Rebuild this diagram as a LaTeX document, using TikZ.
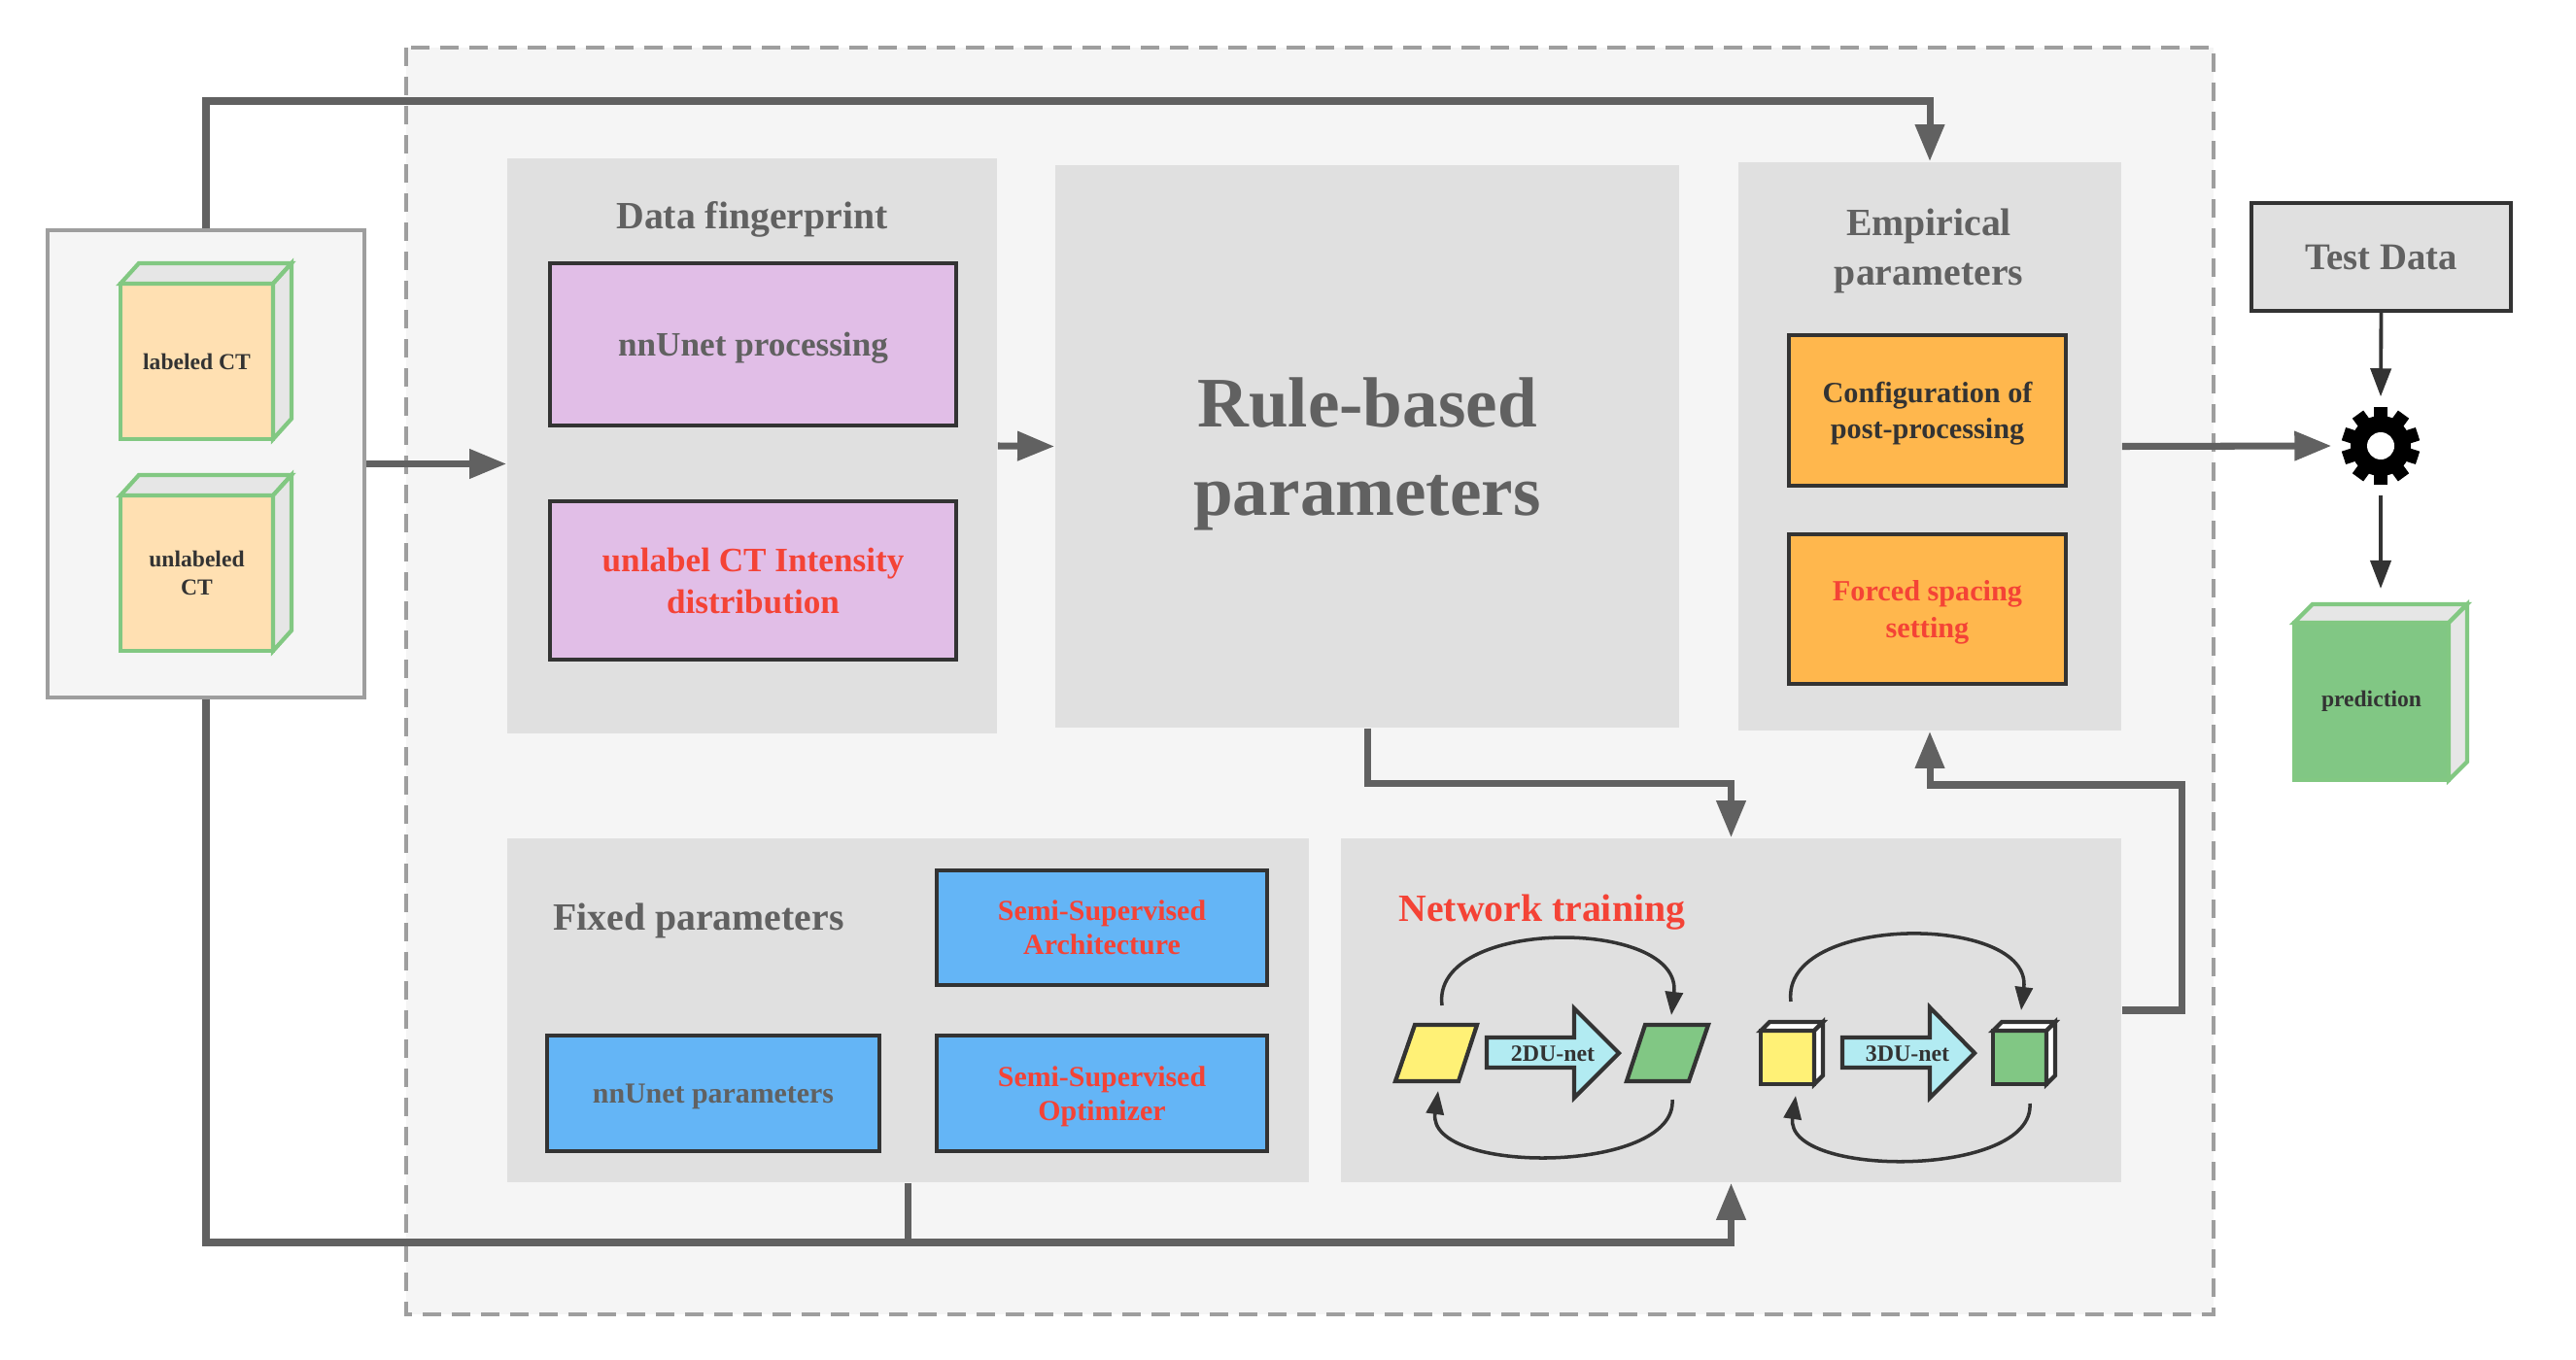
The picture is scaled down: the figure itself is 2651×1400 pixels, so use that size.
\documentclass[tikz,border=0pt]{standalone}
\usepackage{fontspec}
\setmainfont{Liberation Serif}
\usetikzlibrary{arrows.meta}

\definecolor{framebg}{HTML}{F5F5F5}
\definecolor{framedash}{HTML}{9E9E9E}
\definecolor{panelgray}{HTML}{E0E0E0}
\definecolor{flowgray}{HTML}{616161}
\definecolor{txtgray}{HTML}{616161}
\definecolor{txtdark}{HTML}{333333}
\definecolor{txtred}{HTML}{F44336}
\definecolor{lilac}{HTML}{E1BEE7}
\definecolor{amber}{HTML}{FFB74D}
\definecolor{skyblue}{HTML}{64B5F6}
\definecolor{peach}{HTML}{FFE0B2}
\definecolor{cubeedge}{HTML}{82C882}
\definecolor{cubeside}{HTML}{E6E6E6}
\definecolor{leaf}{HTML}{81C784}
\definecolor{lemon}{HTML}{FFF176}
\definecolor{cyanpale}{HTML}{B2EBF2}

\newcommand\setfs[2]{\fontsize{#1}{#2}\selectfont\bfseries}

\tikzset{
  panel/.style={fill=panelgray, inner sep=0pt},
  ttl/.style={font=\setfs{11.3}{14.5}, text=txtgray, align=center, text depth=0pt},
  cell/.style={draw=txtdark, line width=1.2pt, align=center, inner sep=2pt, text depth=0pt},
  cube/.style={fill=peach, draw=cubeedge, line width=1.2pt, outer sep=0pt, align=center, font=\setfs{6.7}{8.2}, text=txtdark},
  cubeface/.style={fill=cubeside, draw=cubeedge, line width=1.2pt},
  shapeline/.style={draw=txtdark, line width=1.2pt},
  flow/.style={draw=flowgray, line width=2pt, -{Triangle[length=0.38cm,width=0.29cm]}},
  flowline/.style={draw=flowgray, line width=2pt},
  thin/.style={draw=txtdark, line width=1.1pt, -{Triangle[length=0.29cm,width=0.21cm]}},
  loop/.style={draw=txtdark, line width=1pt, -{Triangle[length=0.24cm,width=0.18cm]}}
}

\begin{document}
\begin{tikzpicture}[x=0.01cm, y=-0.01cm]
\path[use as bounding box, fill=white] (0,0) rectangle (2651,1400);
\draw[fill=framebg, draw=framedash, line width=0.9pt, dash pattern=on 0.19cm off 0.11cm] (418,49) rectangle (2278,1353); %frame

% inputs
\node[draw=framedash, fill=framebg, line width=1pt, minimum width=3.26cm, minimum height=4.81cm] (inbox) at (212,477.5) {};
\node[cube, minimum width=1.57cm, minimum height=1.60cm] (lct) at (202.5,372) {labeled CT};
\node[cube, minimum width=1.57cm, minimum height=1.60cm] (uct) at (202.5,590) {unlabeled\\CT};
\foreach \c in {lct,uct} {
  \draw[cubeface] (\c.north west) -- ++(19,-21) -- ++(157,0) -- (\c.north east) -- cycle;
  \draw[cubeface] (\c.north east) -- ++(19,-21) -- ++(0,160) -- (\c.south east) -- cycle;
}

% data fingerprint
\node[panel, minimum width=5.04cm, minimum height=5.92cm] (df) at (774,459) {};
\node[ttl] (dftitle) at (774,222) {Data fingerprint};
\node[cell, fill=lilac, minimum width=4.18cm, minimum height=1.67cm, font=\setfs{10}{12.3}, text=txtgray] (dfproc) at (775,354.5) {nnUnet processing};
\node[cell, fill=lilac, minimum width=4.18cm, minimum height=1.63cm, font=\setfs{10}{12.3}, text=txtred] (dfint) at (775,597.5) {unlabel CT Intensity\\distribution};

% rule-based
\node[panel, minimum width=6.42cm, minimum height=5.79cm, font=\setfs{20.8}{26}, text=txtgray, align=center, text depth=0pt] (rule) at (1407,459.5) {Rule-based\\parameters};

% empirical
\node[panel, minimum width=3.94cm, minimum height=5.85cm] (emp) at (1986,459.5) {};
\node[ttl] (emptitle) at (1985,254) {Empirical\\parameters};
\node[cell, fill=amber, minimum width=2.85cm, minimum height=1.55cm, font=\setfs{8.6}{10.6}, text=txtdark] (config) at (1983.5,422.5) {Configuration of\\post-processing};
\node[cell, fill=amber, minimum width=2.85cm, minimum height=1.54cm, font=\setfs{8.6}{10.6}, text=txtred] (forced) at (1983.5,627) {Forced spacing\\setting};

% fixed
\node[panel, minimum width=8.25cm, minimum height=3.54cm] (fixed) at (934.5,1040) {};
\node[ttl, anchor=west] (fixtitle) at (557,944) {Fixed parameters};
\node[cell, fill=skyblue, minimum width=3.40cm, minimum height=1.18cm, font=\setfs{8.5}{10}, text=txtred] (arch) at (1134,955) {Semi-Supervised\\Architecture};
\node[cell, fill=skyblue, minimum width=3.42cm, minimum height=1.19cm, font=\setfs{8.5}{10}, text=txtgray] (nnpar) at (734,1125.5) {nnUnet parameters};
\node[cell, fill=skyblue, minimum width=3.40cm, minimum height=1.19cm, font=\setfs{8.5}{10}, text=txtred] (optim) at (1134,1125.5) {Semi-Supervised\\Optimizer};

% network training
\node[panel, minimum width=8.03cm, minimum height=3.54cm] (nt) at (1781.5,1040) {};
\node[ttl, anchor=west, text=txtred] (nttitle) at (1427,935) {Network training};
\draw[shapeline, fill=lemon] (1436,1113) -- (1456,1055) -- (1520,1055) -- (1501,1113) -- cycle; %2d in
\draw[shapeline, fill=leaf] (1674,1113) -- (1693,1055) -- (1758,1055) -- (1738,1113) -- cycle;  %2d out
\draw[shapeline, fill=cyanpale] (1530,1068) -- (1620,1068) -- (1620,1038) -- (1666,1084) -- (1620,1130) -- (1620,1099) -- (1530,1099) -- cycle;
\node[font=\setfs{6.8}{8}, text=txtdark] (unet2d) at (1598,1085) {2DU-net};
\draw[shapeline, fill=lemon] (1812,1061) rectangle (1867,1116); %3d in
\draw[shapeline, fill=white] (1812,1061) -- ++(9,-9) -- ++(55,0) -- (1867,1061) -- cycle;
\draw[shapeline, fill=white] (1867,1061) -- ++(9,-9) -- ++(0,55) -- (1867,1116) -- cycle;
\draw[shapeline, fill=cyanpale] (1896,1068) -- (1986,1068) -- (1986,1037) -- (2032,1084) -- (1986,1130) -- (1986,1099) -- (1896,1099) -- cycle;
\node[font=\setfs{6.8}{8}, text=txtdark] (unet3d) at (1963,1085) {3DU-net};
\draw[shapeline, fill=leaf] (2051,1061) rectangle (2106,1116); %3d out
\draw[shapeline, fill=white] (2051,1061) -- ++(9,-9) -- ++(55,0) -- (2106,1061) -- cycle;
\draw[shapeline, fill=white] (2106,1061) -- ++(9,-9) -- ++(0,55) -- (2106,1116) -- cycle;
\draw[loop] (1484,1035) .. controls (1472,944) and (1732,944) .. (1720,1045);
\draw[loop] (1721,1132) .. controls (1726,1209) and (1468,1210) .. (1480,1123);
\draw[loop] (1843,1031) .. controls (1832,940) and (2092,940) .. (2080,1040);
\draw[loop] (2089,1136) .. controls (2094,1213) and (1836,1213) .. (1848,1128);

% test side
\node[cell, fill=panelgray, minimum width=2.67cm, minimum height=1.11cm, font=\setfs{11}{13}, text=txtgray] (testdata) at (2450.5,264.5) {Test Data};
\node[circle, minimum size=1.0cm, inner sep=0pt] (gear) at (2450,459) {};
\begin{scope}[shift={(2450,459)}]
  \fill[black] (0,0) circle (31);
  \foreach \a in {0,36,...,324}
    \fill[black, rotate=\a] (-7,-26) rectangle (7,-40);
  \fill[white] (0,0) circle (14);
\end{scope}
\node[cube, fill=leaf, minimum width=1.59cm, minimum height=1.62cm] (pred) at (2440.5,722) {prediction};
\draw[cubeface] (pred.north west) -- ++(19,-19) -- ++(159,0) -- (pred.north east) -- cycle;
\draw[cubeface] (pred.north east) -- ++(19,-19) -- ++(0,162) -- (pred.south east) -- cycle;

% connectors
\coordinate (topbend) at (1986,104);
\coordinate (backbend) at (2245,808);
\coordinate (basebend) at (934.5,1279);
\coordinate (predtop) at (2450,606);
\draw[flow] (inbox.east) -- (inbox.east -| df.west);
\draw[flow] (df.east) -- (rule.west);
\draw[flow] (inbox.north) |- (topbend) -- (emp.north);
\draw[flow] (rule.south) -- ++(0,57) -| (nt.north);
\draw[flow] (nt.east) -| (backbend) -| (emp.south);
\draw[flow] (inbox.south) |- (basebend) -| (nt.south);
\draw[flowline] (fixed.south) -- (basebend);
\draw[flow] (emp.east) -- (gear.west);
\draw[thin] (testdata.south) -- (gear.north);
\draw[thin] (gear.south) -- (predtop);
\end{tikzpicture}
\end{document}
